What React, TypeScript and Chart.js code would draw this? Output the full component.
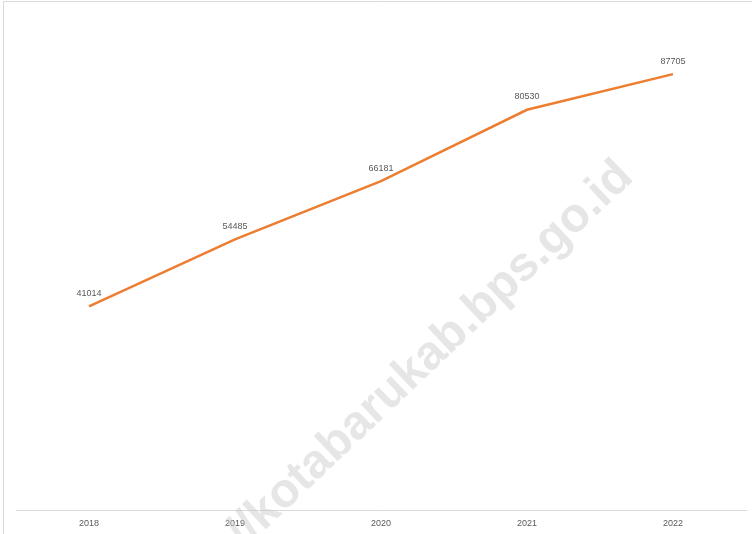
import React, { useEffect, useRef } from "react";
import { Chart, registerables } from "chart.js";

Chart.register(...registerables);

const categories = ["2018", "2019", "2020", "2021", "2022"];
const values = [41014, 54485, 66181, 80530, 87705];
const yMin = 0;
const yMax = 100000;
const watermarkText = "https://kotabarukab.bps.go.id";

const LINE_COLOR = "#ED7D31";
const TEXT_COLOR = "#595959";
const BORDER_COLOR = "#d9d9d9";
const FONT = "'Liberation Sans', Arial, sans-serif";

export default function App() {
  const ref = useRef<HTMLCanvasElement | null>(null);

  useEffect(() => {
    if (!ref.current) return;

    const framePlugin = {
      id: "frame",
      beforeDraw(chart: any) {
        const ctx = chart.ctx;
        ctx.save();
        ctx.fillStyle = "#ffffff";
        ctx.fillRect(0, 0, chart.width, chart.height);
        ctx.strokeStyle = BORDER_COLOR;
        ctx.lineWidth = 1;
        ctx.beginPath();
        ctx.moveTo(3.5, chart.height);
        ctx.lineTo(3.5, 1.5);
        ctx.lineTo(chart.width, 1.5);
        ctx.stroke();
        ctx.restore();
      },
    };

    const watermarkPlugin = {
      id: "watermark",
      beforeDatasetsDraw(chart: any) {
        const ctx = chart.ctx;
        ctx.save();
        ctx.translate(635, 179);
        ctx.rotate((-43.5 * Math.PI) / 180);
        ctx.font = `bold 48px ${FONT}`;
        ctx.fillStyle = "rgba(200,200,200,0.45)";
        ctx.textAlign = "right";
        ctx.textBaseline = "alphabetic";
        ctx.fillText(watermarkText, 0, 0);
        ctx.restore();
      },
    };

    const labelPlugin = {
      id: "valueLabels",
      afterDatasetsDraw(chart: any) {
        const ctx = chart.ctx;
        const meta = chart.getDatasetMeta(0);
        ctx.save();
        ctx.font = `9px ${FONT}`;
        ctx.fillStyle = TEXT_COLOR;
        ctx.textAlign = "center";
        ctx.textBaseline = "middle";
        meta.data.forEach((pt: any, i: number) => {
          ctx.fillText(String(values[i]), pt.x, pt.y - 13);
        });
        ctx.restore();
      },
    };

    const chart = new Chart(ref.current, {
      type: "line",
      data: {
        labels: categories,
        datasets: [
          {
            data: values,
            borderColor: LINE_COLOR,
            borderWidth: 2.5,
            pointRadius: 0,
            tension: 0,
            fill: false,
          },
        ],
      },
      options: {
        responsive: false,
        animation: false,
        layout: { padding: { left: 16, right: 6, top: 13, bottom: 5 } },
        plugins: {
          legend: { display: false },
          tooltip: { enabled: false },
          title: { display: false },
        },
        scales: {
          x: {
            type: "category",
            offset: true,
            grid: { display: false, drawTicks: false },
            border: { display: true, color: BORDER_COLOR, width: 1 },
            ticks: {
              color: TEXT_COLOR,
              font: { family: FONT, size: 9 },
              padding: 8,
              maxRotation: 0,
            },
          },
          y: {
            display: false,
            min: yMin,
            max: yMax,
          },
        },
      },
      plugins: [framePlugin, watermarkPlugin, labelPlugin],
    });

    return () => chart.destroy();
  }, []);

  return (
    <div
      style={{
        position: "absolute",
        left: 0,
        top: 0,
        width: 752,
        height: 534,
        overflow: "hidden",
        background: "#fff",
      }}
    >
      <canvas ref={ref} width={752} height={542} style={{ display: "block" }} />
    </div>
  );
}
